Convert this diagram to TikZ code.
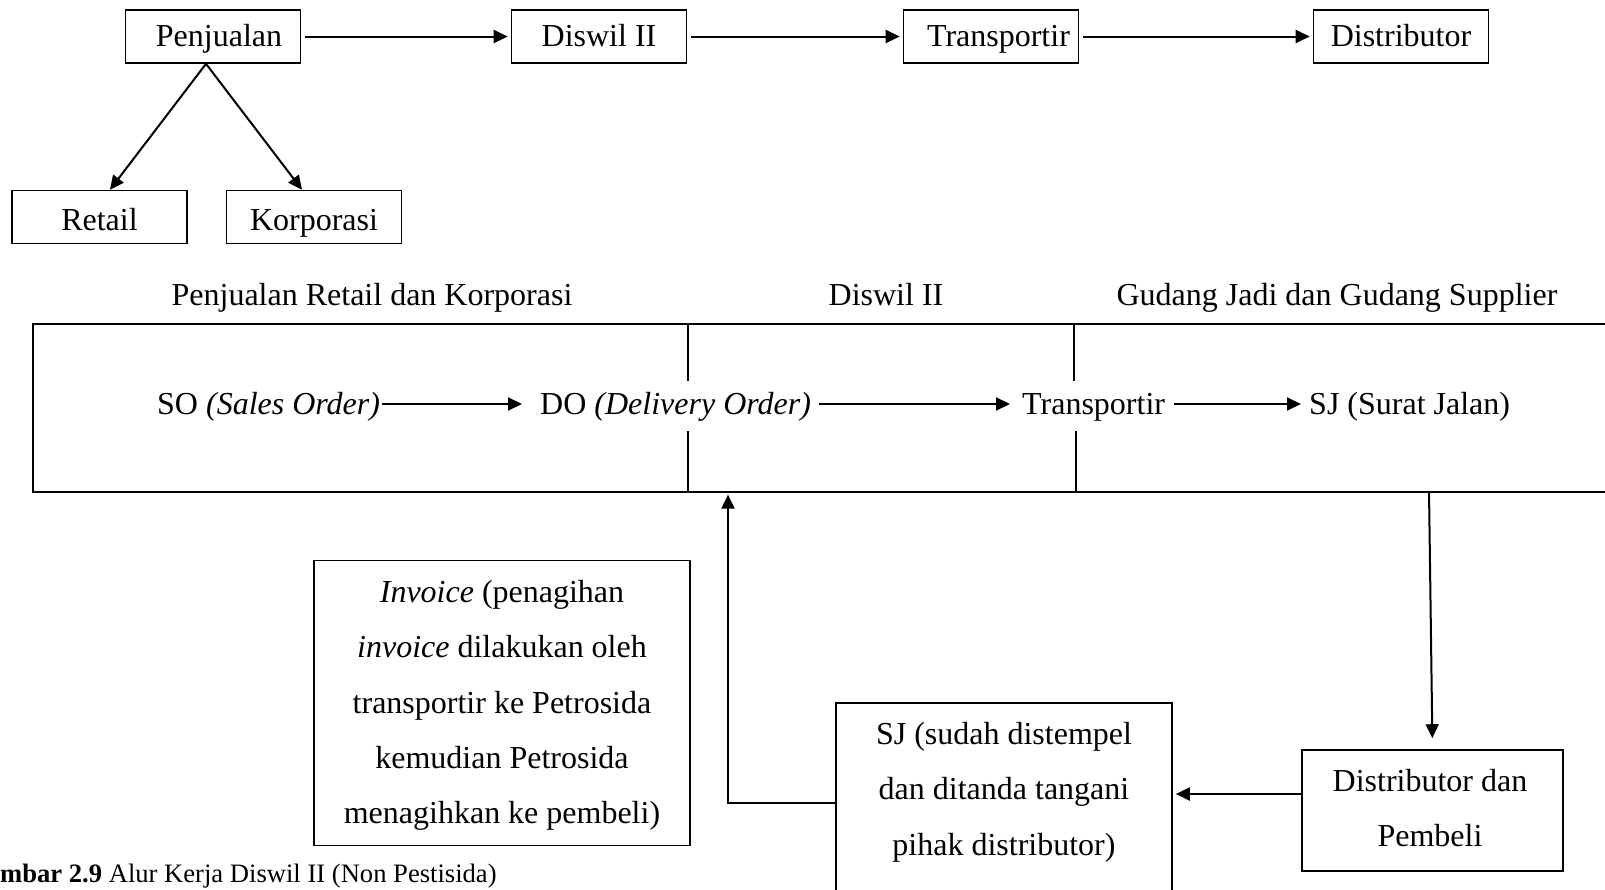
\documentclass[tikz,border=0pt]{standalone}
\usepackage{fontspec}
\setmainfont{Liberation Serif}
\usetikzlibrary{arrows.meta}
\newcommand\mainfs{\fontsize{32}{55.3}\selectfont}
\begin{document}
\begin{tikzpicture}[x=1pt,y=-1pt,
  box/.style={draw, line width=1.6pt, minimum width=175pt, minimum height=53pt, inner sep=0pt,
    font=\mainfs, text height=20pt, text depth=0pt},
  frame/.style={draw, line width=1.6pt, inner sep=0pt},
  lbl/.style={inner sep=0pt, font=\mainfs, text height=20pt, text depth=0pt},
  para/.style={inner sep=0pt, font=\mainfs, align=center},
  arr/.style={line width=2pt, -{Triangle[length=14pt,width=13pt]}},
  rule/.style={line width=1.6pt},
]
\clip (0,0) rectangle (1605,889);

% top chain
\node[box] (pen) at (213,36.5) {\hspace*{12pt}Penjualan};
\node[box] (dis) at (599,36.5) {Diswil II};
\node[box] (tra) at (991,36.5) {\hspace*{15pt}Transportir};
\node[box] (dst) at (1401,36.5) {Distributor};
\node[box, text height=26pt] (ret) at (99.5,217) {Retail};
\node[box, text height=26pt] (kor) at (314,217) {Korporasi};

\draw[arr, shorten <=4pt, shorten >=3pt] (pen) -- (dis);
\draw[arr, shorten <=4pt, shorten >=3pt] (dis) -- (tra);
\draw[arr, shorten <=4pt, shorten >=3pt] (tra) -- (dst);
\draw[arr] ([xshift=-7pt]pen.south) -- ([xshift=10.5pt]ret.north);
\draw[arr] ([xshift=-7pt]pen.south) -- ([xshift=-12pt]kor.north);

% column headings
\node[lbl] (h1) at (372,295) {Penjualan Retail dan Korporasi};
\node[lbl] (h2) at (886,295) {Diswil II};
\node[lbl] (h3) at (1337,295) {Gudang Jadi dan Gudang Supplier};

% document flow band
\node[frame, anchor=north west, minimum width=1593pt, minimum height=168pt] (flow) at (32,323) {};
\draw[rule] (688,323) -- (688,381);
\draw[rule] (688,431) -- (688,491);
\draw[rule] (1074,323) -- (1074,381);
\draw[rule] (1076,431) -- (1076,491);

\node[lbl, anchor=west] (so) at (157,404) {SO \textit{(Sales Order)}};
\node[lbl, anchor=west] (do) at (540,404) {DO \textit{(Delivery Order)}};
\node[lbl, anchor=west] (tr2) at (1022,404) {Transportir};
\node[lbl, anchor=west] (sj1) at (1309,404) {SJ (Surat Jalan)};

\draw[arr, shorten <=2pt, shorten >=18pt] (so.east) -- (so.east -| do.west);
\draw[arr, shorten <=8pt, shorten >=12pt] (do.east) -- (do.east -| tr2.west);
\draw[arr, shorten <=9pt, shorten >=8pt] (tr2.east) -- (tr2.east -| sj1.west);

% lower loop
\coordinate (out) at (1429,491);
\node[frame, minimum width=261pt, minimum height=121pt] (db) at (1432.5,810.5) {};
\node[para] (dbt) at (1430,808) {Distributor dan\\Pembeli};
\draw[arr, shorten >=11pt] (out) -- (db.north);

\node[frame, minimum width=336pt, minimum height=200pt] (sjb) at (1004,803) {};
\node[para] (sjt) at (1004,792) {SJ (sudah distempel\\dan ditanda tangani\\pihak distributor)};
\draw[arr, shorten >=3pt] (db.west |- 0,794) -- (sjb.east |- 0,794);

\coordinate (back) at (728,802.5);
\draw[arr, shorten >=2pt] (sjb.west |- back) -- (back) -- (back |- flow.south);

\node[frame, minimum width=376pt, minimum height=285pt] (inv) at (502,703) {};
\node[para] (invt) at (502,705.5)
  {\textit{Invoice} (penagihan\\\textit{invoice} dilakukan oleh\\transportir ke Petrosida\\kemudian Petrosida\\menagihkan ke pembeli)};

\node[anchor=west, inner sep=0pt, font=\fontsize{26.6}{30}\selectfont] (cap) at (0,876)
  {\textbf{mbar 2.9} Alur Kerja Diswil II (Non Pestisida)};
\end{tikzpicture}
\end{document}
